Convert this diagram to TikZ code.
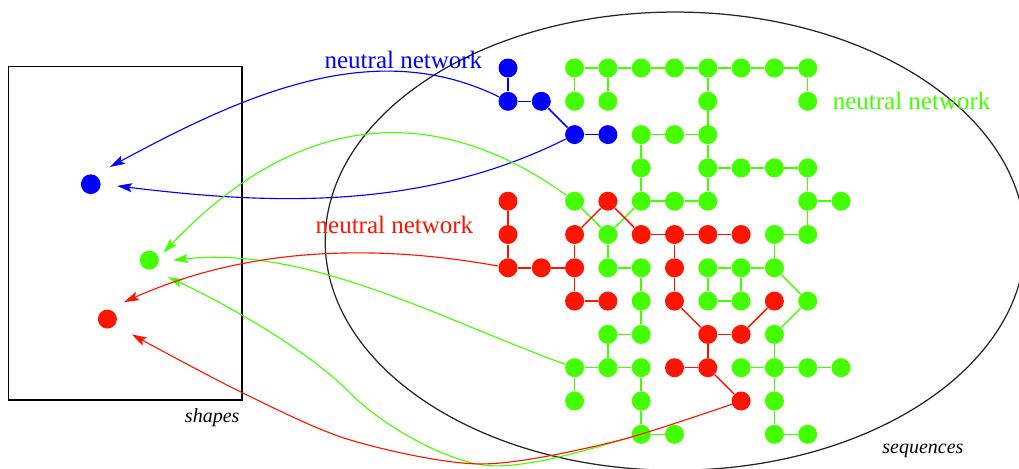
\documentclass[tikz,border=0pt]{standalone}
\usepackage{fontspec}
\setmainfont{Liberation Serif}
\usetikzlibrary{arrows.meta}
\definecolor{nnblue}{RGB}{0,0,255}
\definecolor{nngreen}{RGB}{68,255,0}
\definecolor{nnred}{RGB}{255,20,0}

\begin{document}
\begin{tikzpicture}[x=13.32pt,y=13.32pt,
    seqdot/.style={circle,fill,inner sep=0pt,minimum size=7.6pt},
    link/.style={line width=0.6pt},
    map/.style={line width=0.45pt,-{Stealth[length=6pt,width=3.6pt,inset=1.2pt]}}]
  \useasboundingbox (-15.255,-12.012) rectangle (15.345,2.042);

  % shape space and sequence space
  \draw[line width=0.5pt] (-15,0.05) rectangle (-7.99,-9.97);
  \node[anchor=base east,inner sep=0pt,font=\footnotesize\itshape] (shapes) at (-8.05,-10.66) {shapes};
  \draw[line width=0.5pt,black!85] (5.02,-5.2) ellipse [x radius=10.51,y radius=6.88];
  \node[anchor=base,font=\footnotesize\itshape] (sequences) at (12.46,-11.59) {sequences};

  % one dot per shape
  \node[seqdot,nnblue,minimum size=7.9pt] (sb) at (-12.53,-3.49) {};
  \node[seqdot,nngreen,minimum size=7.6pt] (sg) at (-10.77,-5.77) {};
  \node[seqdot,nnred,minimum size=7.6pt] (sr) at (-12.03,-7.54) {};
  \coordinate (sb-in1) at (-11.95,-2.97);
  \coordinate (sb-in2) at (-11.74,-3.54);
  \coordinate (sg-in1) at (-10.35,-5.55);
  \coordinate (sg-in2) at (-10.06,-5.77);
  \coordinate (sg-in3) at (-10.21,-6.28);
  \coordinate (sr-in1) at (-11.53,-7.03);
  \coordinate (sr-in2) at (-11.3,-8.0);

  % blue network
  \foreach \c/\r in {0/0,0/1,1/1,2/2,3/2}
    \node[seqdot,nnblue] (b\c-\r) at (\c,-\r) {};
  \foreach \a/\b in {0-0/0-1,0-1/1-1,1-1/2-2,2-2/3-2}
    \draw[link,nnblue] (b\a) -- (b\b);

  % green network
  \foreach \c/\r in {2/0,3/0,4/0,5/0,6/0,7/0,8/0,9/0,2/1,3/1,6/1,9/1,
      4/2,5/2,6/2,4/3,6/3,7/3,8/3,9/3,2/4,4/4,5/4,6/4,9/4,10/4,
      3/5,8/5,9/5,3/6,4/6,6/6,7/6,8/6,4/7,6/7,7/7,9/7,3/8,4/8,8/8,
      2/9,3/9,4/9,7/9,8/9,9/9,10/9,2/10,4/10,8/10,4/11,5/11,8/11,9/11}
    \node[seqdot,nngreen] (g\c-\r) at (\c,-\r) {};
  \foreach \a/\b in {2-0/3-0,3-0/4-0,4-0/5-0,5-0/6-0,6-0/7-0,7-0/8-0,8-0/9-0,
      2-0/2-1,3-0/3-1,6-0/6-1,9-0/9-1,6-1/6-2,4-2/5-2,5-2/6-2,4-2/4-3,6-2/6-3,
      6-3/7-3,7-3/8-3,8-3/9-3,4-3/4-4,6-3/6-4,9-3/9-4,4-4/5-4,5-4/6-4,9-4/10-4,
      2-4/3-5,4-4/3-5,9-4/9-5,8-5/9-5,8-5/8-6,3-5/3-6,3-6/4-6,
      6-6/7-6,7-6/8-6,4-6/4-7,6-6/6-7,7-6/7-7,6-7/7-7,8-6/9-7,9-7/8-8,
      4-7/4-8,3-8/4-8,3-8/3-9,8-8/8-9,2-9/3-9,3-9/4-9,7-9/8-9,8-9/9-9,9-9/10-9,
      2-9/2-10,4-9/4-10,8-9/8-10,4-10/4-11,4-11/5-11,8-10/8-11,8-11/9-11}
    \draw[link,nngreen] (g\a) -- (g\b);

  % red network
  \foreach \c/\r in {0/4,3/4,0/5,2/5,4/5,5/5,6/5,7/5,0/6,1/6,2/6,5/6,
      2/7,3/7,5/7,8/7,6/8,7/8,5/9,6/9,7/10}
    \node[seqdot,nnred] (r\c-\r) at (\c,-\r) {};
  \foreach \a/\b in {0-4/0-5,0-5/0-6,0-6/1-6,1-6/2-6,2-5/2-6,2-5/3-4,3-4/4-5,
      4-5/5-5,5-5/6-5,6-5/7-5,5-5/5-6,5-6/5-7,2-6/2-7,2-7/3-7,5-7/6-8,6-8/7-8,
      7-8/8-7,6-8/6-9,5-9/6-9,6-9/7-10}
    \draw[link,nnred] (r\a) -- (r\b);

  % mapping of sequences onto shapes
  \draw[map,nnblue] (b0-1) .. controls (-4.0,0.97) and (-7.9,-0.78) .. (sb-in1);
  \draw[map,nnblue] (b2-2) .. controls (-2.6,-4.3) and (-7.2,-4.1) .. (sb-in2);
  \draw[map,nngreen] (g2-4) .. controls (-2.1,-1.05) and (-6.2,-1.18) .. (sg-in1);
  \draw[map,nngreen] (g2-9) .. controls (-2.0,-7.55) and (-6.0,-5.33) .. (sg-in2);
  \draw[map,nngreen] (g4-11) .. controls (2.56,-11.41) and (0.3,-12.14) .. (-0.9,-11.9)
      .. controls (-2.17,-11.64) and (-3.83,-10.68) .. (-4.74,-9.76)
      .. controls (-6.14,-8.34) and (-8.85,-6.9) .. (sg-in3);
  \draw[map,nnred] (r0-6) .. controls (-3.83,-5.31) and (-7.7,-5.32) .. (sr-in1);
  \draw[map,nnred] plot[smooth] coordinates {(r7-10) (3.15,-11.23) (-0.84,-11.89)
      (-4.74,-11.17) (-7.96,-9.76) (sr-in2)};

  \node[nnblue,anchor=base] (blue-name) at (-3.14,0) {neutral network};
  \node[nngreen,anchor=base] (green-name) at (12.12,-1.26) {neutral network};
  \node[nnred,anchor=base] (red-name) at (-3.41,-4.98) {neutral network};
\end{tikzpicture}
\end{document}
